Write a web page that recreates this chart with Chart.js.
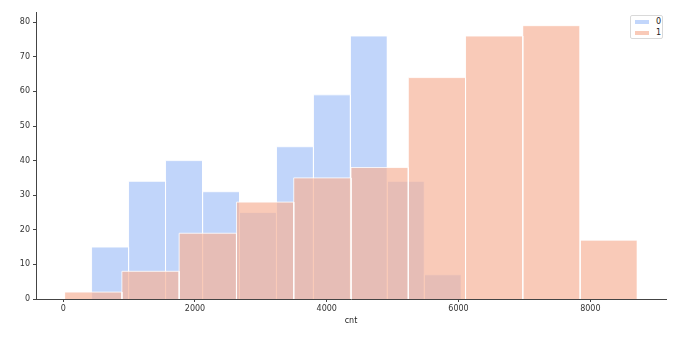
<!DOCTYPE html>
<html>
<head>
<meta charset="utf-8">
<script src="https://cdn.jsdelivr.net/npm/chart.js@4.4.1/dist/chart.umd.min.js"></script>
<style>
  html, body { margin: 0; padding: 0; background: #fff; }
  #wrap { position: relative; width: 690px; height: 338px; }
  #legend {
    position: absolute; left: 630px; top: 15px; width: 31px; height: 22px;
    border: 1px solid #d9d9d9; border-radius: 2px; background: #fff;
    font: 8px "DejaVu Sans", sans-serif; color: #222;
  }
  .legend-row { position: absolute; left: 4px; height: 8px; line-height: 8px; }
  .legend-dot { position: absolute; left: 0; top: 2px; width: 14px; height: 4px; }
  .legend-name { position: absolute; left: 21px; top: 0; }
</style>
</head>
<body>
<div id="wrap">
  <canvas id="histChart" width="690" height="338"></canvas>
  <div id="legend"></div>
</div>
<script>
/* ---------------------------
   Data
--------------------------- */
const groupNames = ["0", "1"];
const edges0 = [431, 992, 1553, 2115, 2676, 3237, 3798, 4359, 4920, 5482, 6043];
const counts0 = [15, 34, 40, 31, 25, 44, 59, 76, 34, 7];
const edges1 = [22, 891, 1760, 2630, 3499, 4368, 5237, 6106, 6975, 7845, 8714];
const counts1 = [2, 8, 19, 28, 35, 38, 64, 76, 79, 17];
const xTicks = [0, 2000, 4000, 6000, 8000];
const yTicks = [0, 10, 20, 30, 40, 50, 60, 70, 80];

const blueFill = "rgba(132,172,246,0.5)";
const orangeFill = "rgba(246,180,154,0.7)";
const legendColors = ["rgba(194,214,251,1)", "rgba(249,202,184,1)"];

/* ---------------------------
   One closed rectangle per bin
--------------------------- */
function binDatasets(edges, counts, color, order) {
  return counts.map((c, i) => ({
    data: [
      { x: edges[i], y: 0 },
      { x: edges[i], y: c },
      { x: edges[i + 1], y: c },
      { x: edges[i + 1], y: 0 }
    ],
    backgroundColor: color,
    borderColor: "rgba(255,255,255,0.8)",
    borderWidth: 1,
    pointRadius: 0,
    tension: 0,
    fill: "origin",
    order
  }));
}

const tickFont = { family: "DejaVu Sans", size: 8 };

new Chart(document.getElementById("histChart").getContext("2d"), {
  type: "line",
  data: {
    datasets: [
      ...binDatasets(edges1, counts1, orangeFill, 1),
      ...binDatasets(edges0, counts0, blueFill, 2)
    ]
  },
  options: {
    responsive: false,
    animation: false,
    layout: { padding: { top: 12, right: 24, left: 0, bottom: 12 } },
    plugins: {
      legend: { display: false },
      tooltip: { enabled: false }
    },
    scales: {
      x: {
        type: "linear",
        min: -412.6,
        max: 9148.6,
        afterBuildTicks: s => { s.ticks = xTicks.map(v => ({ value: v })); },
        afterFit: s => { s.height = 27; },
        grid: { drawOnChartArea: false, drawTicks: true, tickLength: 3, color: "#444" },
        border: { display: true, color: "#444", width: 1 },
        ticks: { font: tickFont, color: "#333", padding: 2, maxRotation: 0, callback: v => String(v) },
        title: { display: true, text: "cnt", font: { family: "DejaVu Sans", size: 8 }, color: "#222", padding: { top: 0, bottom: 0 } }
      },
      y: {
        type: "linear",
        min: 0,
        max: 82.95,
        afterBuildTicks: s => { s.ticks = yTicks.map(v => ({ value: v })); },
        afterFit: s => { s.width = 36; },
        grid: { drawOnChartArea: false, drawTicks: true, tickLength: 3, color: "#444" },
        border: { display: true, color: "#444", width: 1 },
        ticks: { font: tickFont, color: "#333", padding: 3, callback: v => String(v) }
      }
    }
  }
});

/* ---------------------------
   Legend
--------------------------- */
const legend = document.getElementById("legend");
groupNames.forEach((name, i) => {
  const row = document.createElement("div");
  row.className = "legend-row";
  row.style.top = (2 + i * 11) + "px";
  const dot = document.createElement("span");
  dot.className = "legend-dot";
  dot.style.background = legendColors[i];
  const label = document.createElement("span");
  label.className = "legend-name";
  label.textContent = name;
  row.append(dot, label);
  legend.appendChild(row);
});
</script>
</body>
</html>
